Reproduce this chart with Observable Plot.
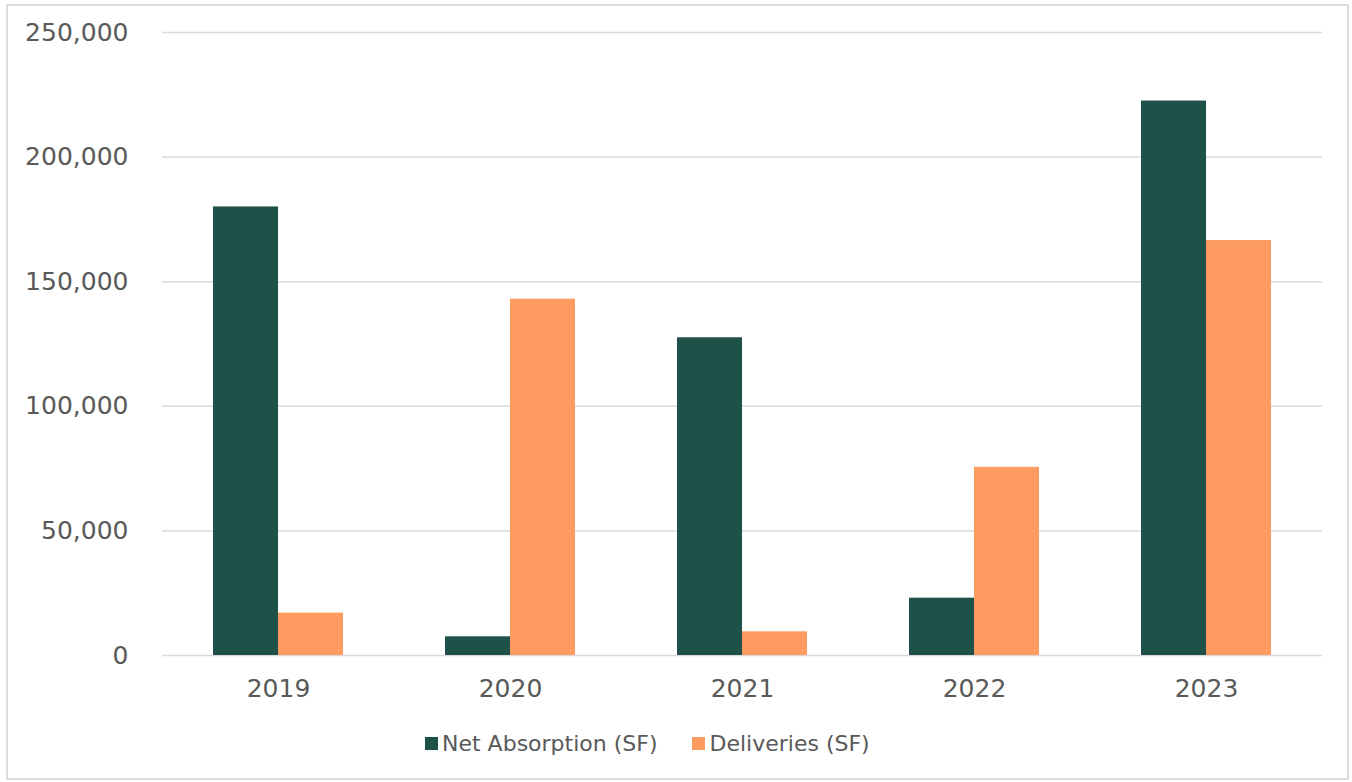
<!DOCTYPE html>
<html>
<head>
<meta charset="utf-8">
<script src="https://cdn.jsdelivr.net/npm/d3@7"></script>
<script src="https://cdn.jsdelivr.net/npm/@observablehq/plot@0.6"></script>
<style>
  html, body { margin: 0; padding: 0; background: #fff; }
  body { width: 1352px; height: 782px; position: relative; overflow: hidden; font-family: "DejaVu Sans", sans-serif; }
  #frame { position: absolute; left: 6px; top: 4px; width: 1343px; height: 776px; box-sizing: border-box; border: 2px solid #dcdcdc; }
  #chart { position: absolute; left: 0; top: 0; }
  #legend { position: absolute; left: 425px; top: 731px; display: flex; align-items: center; font-size: 22px; color: #595959; white-space: nowrap; }
  .item { display: flex; align-items: center; margin-right: 35px; }
  .sw { width: 13px; height: 13px; margin-right: 4px; }
</style>
</head>
<body>
<div id="frame"></div>
<div id="chart"></div>
<div id="legend"></div>
<script>
const years = ["2019", "2020", "2021", "2022", "2023"];
const netAbsorption = [180000, 7500, 127500, 23000, 222500];
const deliveries = [17000, 143000, 9500, 75500, 166500];
const seriesNames = ["Net Absorption (SF)", "Deliveries (SF)"];
const seriesColors = ["#1E5249", "#FD9B61"];
const yTicks = [0, 50000, 100000, 150000, 200000, 250000];

const data = years.flatMap((yr, i) => [
  {year: yr, series: seriesNames[0], value: netAbsorption[i]},
  {year: yr, series: seriesNames[1], value: deliveries[i]}
]);

const chart = Plot.plot({
  width: 1352,
  height: 700,
  marginLeft: 162,
  marginRight: 30,
  marginTop: 32,
  marginBottom: 45,
  style: {fontFamily: "DejaVu Sans", fontSize: "25px", color: "#595959", background: "transparent", overflow: "visible"},
  fx: {domain: years, padding: 0, label: null, axis: "bottom", tickSize: 0, tickPadding: 24},
  x: {domain: seriesNames, paddingInner: 0, paddingOuter: 0.758, axis: null},
  y: {domain: [0, 250000], ticks: yTicks, tickFormat: d3.format(","), label: null, tickSize: 0, tickPadding: 34},
  color: {domain: seriesNames, range: seriesColors},
  marks: [
    Plot.ruleY(yTicks, {stroke: "#d9d9d9", strokeWidth: 1.5}),
    Plot.barY(data, {fx: "year", x: "series", y: "value", fill: "series", inset: 0})
  ]
});
document.getElementById("chart").appendChild(chart);

const legend = document.getElementById("legend");
seriesNames.forEach((name, i) => {
  const item = document.createElement("div");
  item.className = "item";
  const sw = document.createElement("div");
  sw.className = "sw";
  sw.style.background = seriesColors[i];
  const label = document.createElement("span");
  label.textContent = name;
  item.appendChild(sw);
  item.appendChild(label);
  legend.appendChild(item);
});
</script>
</body>
</html>
